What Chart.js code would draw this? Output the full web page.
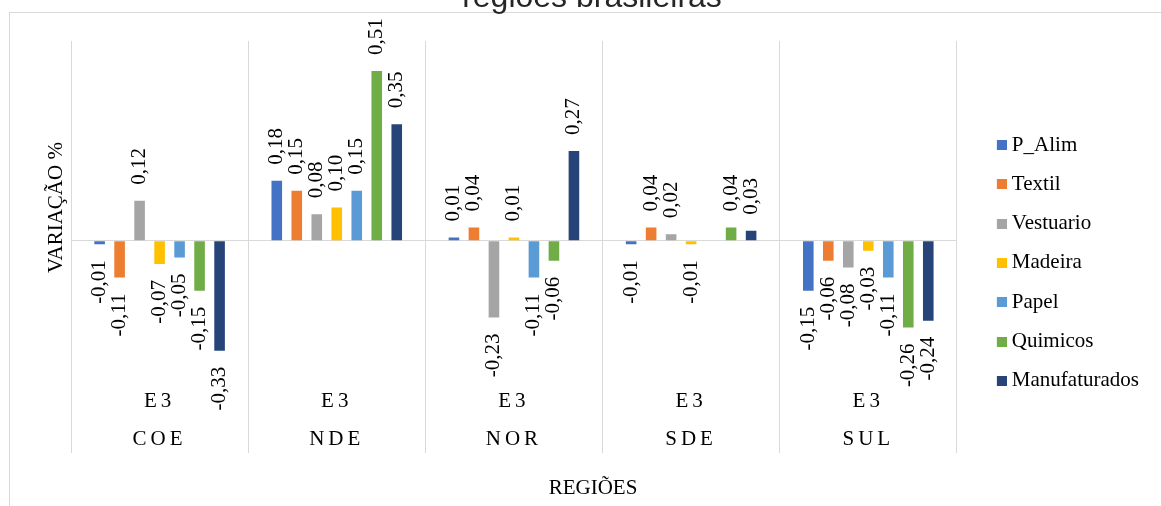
<!DOCTYPE html>
<html><head><meta charset="utf-8">
<script src="https://cdn.jsdelivr.net/npm/chart.js@4.4.0/dist/chart.umd.min.js"></script>
<style>html,body{margin:0;padding:0;background:#fff;overflow:hidden}</style>
</head><body>
<canvas id="c" width="1161" height="506" style="display:block;width:1161px;height:506px"></canvas>
<script>
// ---- data ----
const regions = ['COE', 'NDE', 'NOR', 'SDE', 'SUL'];
const scenario = 'E3';
const seriesNames = ['P_Alim', 'Textil', 'Vestuario', 'Madeira', 'Papel', 'Quimicos', 'Manufaturados'];
const P_Alim        = [-0.01, 0.18,  0.01, -0.01, -0.15];
const Textil        = [-0.11, 0.15,  0.04,  0.04, -0.06];
const Vestuario     = [ 0.12, 0.08, -0.23,  0.02, -0.08];
const Madeira       = [-0.07, 0.10,  0.01, -0.01, -0.03];
const Papel         = [-0.05, 0.15, -0.11,  null, -0.11];
const Quimicos      = [-0.15, 0.51, -0.06,  0.04, -0.26];
const Manufaturados = [-0.33, 0.35,  0.27,  0.03, -0.24];
const seriesValues = [P_Alim, Textil, Vestuario, Madeira, Papel, Quimicos, Manufaturados];
const colors = ['#4472C4', '#ED7D31', '#A5A5A5', '#FFC000', '#5B9BD5', '#70AD47', '#264478'];
const yMin = -0.4, yMax = 0.6, yStep = 0.2;
const chartTitle = 'regiões brasileiras';
const yTitle = 'VARIAÇÃO %';
const xTitle = 'REGIÕES';

const SERIF = '"Liberation Serif", "Times New Roman", serif';
const GRID = '#d9d9d9';

function swatch(color) {
  const c = document.createElement('canvas');
  c.width = 21; c.height = 10;
  const g = c.getContext('2d');
  g.fillStyle = color;
  g.fillRect(11, 0, 10, 10);
  return c;
}
const swatches = colors.map(swatch);

const fmt = v => v.toFixed(2).replace('.', ',');

const decorPlugin = {
  id: 'decor',
  beforeDraw(chart) {
    const ctx = chart.ctx;
    ctx.save();
    ctx.strokeStyle = GRID;
    ctx.lineWidth = 1;
    ctx.strokeRect(9.5, 12.5, 1300, 600);
    ctx.restore();
    const sx = chart.scales.x;
    if (sx && !sx._lsWrapped) {
      const orig = sx.drawLabels.bind(sx);
      sx.drawLabels = function (a) {
        const c = this.ctx;
        const prev = c.letterSpacing;
        c.letterSpacing = '4px';
        orig(a);
        c.letterSpacing = prev || '0px';
      };
      sx._lsWrapped = true;
    }
  },
  afterDatasetsDraw(chart) {
    const ctx = chart.ctx;
    ctx.save();
    ctx.font = '21px ' + SERIF;
    ctx.fillStyle = '#000';
    ctx.textBaseline = 'middle';
    chart.data.datasets.forEach((ds, di) => {
      const meta = chart.getDatasetMeta(di);
      meta.data.forEach((el, i) => {
        const v = ds.data[i];
        if (v === null || v === undefined) return;
        ctx.save();
        if (v >= 0) {
          ctx.translate(el.x, el.y - 16);
          ctx.rotate(-Math.PI / 2);
          ctx.textAlign = 'left';
        } else {
          ctx.translate(el.x, el.y + 16);
          ctx.rotate(-Math.PI / 2);
          ctx.textAlign = 'right';
        }
        ctx.fillText(fmt(v), 0, 0);
        ctx.restore();
      });
    });
    ctx.restore();
  },
  afterDraw(chart) {
    const ctx = chart.ctx;
    ctx.save();
    ctx.fillStyle = '#262626';
    ctx.textAlign = 'center';
    ctx.textBaseline = 'alphabetic';
    ctx.font = '32px "Liberation Sans", Arial, sans-serif';
    ctx.fillText(chartTitle, 592, 6.7);
    ctx.fillStyle = '#000';
    ctx.textBaseline = 'middle';
    ctx.font = '21px ' + SERIF;
    ctx.fillText(xTitle, 593, 488);
    ctx.restore();
  }
};

new Chart(document.getElementById('c'), {
  type: 'bar',
  data: {
    labels: regions.map(r => [scenario, r]),
    datasets: seriesNames.map((n, i) => ({
      label: n,
      data: seriesValues[i],
      backgroundColor: colors[i],
      borderWidth: 0,
      barPercentage: 0.53,
      categoryPercentage: 0.79
    }))
  },
  options: {
    responsive: false,
    animation: false,
    devicePixelRatio: 1,
    layout: { padding: { left: 10, top: 41, right: 12, bottom: 21.2 } },
    plugins: {
      title: { display: false },
      tooltip: { enabled: false },
      legend: {
        position: 'right',
        align: 'center',
        labels: {
          usePointStyle: true,
          pointStyleWidth: 10,
          boxHeight: 10,
          padding: 18.3,
          color: '#000',
          font: { family: SERIF, size: 21 },
          generateLabels(chart) {
            const items = Chart.defaults.plugins.legend.labels.generateLabels(chart);
            items.forEach((it, i) => { it.pointStyle = swatches[it.datasetIndex]; it.fontColor = '#000'; });
            return items;
          }
        }
      }
    },
    scales: {
      x: {
        grid: { display: true, offset: true, color: GRID, tickColor: GRID, lineWidth: 1, drawTicks: true, tickLength: 79 },
        border: { display: false },
        ticks: {
          padding: -71,
          maxRotation: 0, minRotation: 0, autoSkip: false,
          color: '#000',
          font: { family: SERIF, size: 21, lineHeight: 38 / 21 }
        },
        afterFit(s) { s.height = 110.8; }
      },
      y: {
        min: yMin, max: yMax,
        ticks: { display: false, stepSize: yStep },
        grid: { drawTicks: false, color: c => (c.tick && c.tick.value === 0) ? GRID : 'rgba(0,0,0,0)', lineWidth: 1 },
        border: { display: false },
        title: { display: true, text: yTitle, color: '#000', font: { family: SERIF, size: 21 }, padding: { top: 34, bottom: 0 } },
        afterFit(s) { s.width = 61; }
      },
      y2: {
        position: 'right',
        display: true,
        min: yMin, max: yMax,
        ticks: { display: false },
        grid: { display: false, drawTicks: false },
        border: { display: false },
        afterFit(s) { s.width = 16.2; }
      }
    }
  },
  plugins: [decorPlugin]
});
</script>
</body></html>
